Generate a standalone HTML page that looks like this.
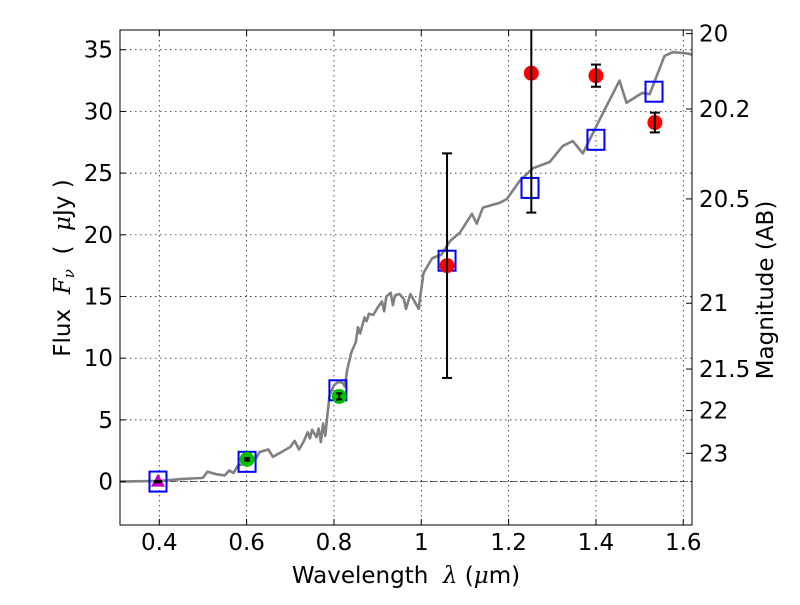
<!DOCTYPE html>
<html><head><meta charset="utf-8"><style>
body{margin:0;background:#fff;}
svg text{font-family:"DejaVu Sans","Liberation Sans",sans-serif;fill:#000;white-space:pre;}
</style></head><body>
<svg id="c" width="800" height="600" xmlns="http://www.w3.org/2000/svg" xml:space="preserve"></svg>
<script>
const specX=[0.310,0.40,0.45,0.50,0.51,0.53,0.55,0.56,0.57,0.58,0.60,0.62,0.63,0.65,0.66,0.68,0.70,0.71,0.72,0.73,0.74,0.745,0.75,0.76,0.765,0.77,0.775,0.78,0.785,0.79,0.80,0.81,0.82,0.825,0.83,0.84,0.85,0.855,0.86,0.87,0.875,0.88,0.89,0.90,0.91,0.915,0.92,0.93,0.935,0.94,0.95,0.96,0.965,0.975,0.994,1.005,1.025,1.046,1.066,1.089,1.116,1.127,1.141,1.18,1.196,1.226,1.256,1.294,1.324,1.347,1.37,1.415,1.454,1.47,1.506,1.523,1.557,1.576,1.609,1.620];
const specY=[0,0.05,0.2,0.3,0.8,0.6,0.5,0.9,0.7,1.3,1.5,1.8,2.4,2.6,2.0,2.4,2.8,3.3,2.6,3.2,4.0,3.5,4.2,3.6,4.3,3.2,4.7,3.7,5.4,7.0,7.8,8.1,8.0,7.7,9.0,10.5,11.3,12.5,12.0,13.3,13.0,13.6,13.5,14.1,14.6,13.8,15.0,15.3,14.3,15.1,15.2,14.8,14.0,15.2,14.0,16.9,18.1,18.4,19.5,20.2,21.7,20.9,22.2,22.6,22.9,24.4,25.4,25.9,27.2,27.6,26.6,29.8,32.5,30.7,31.5,31.4,34.5,34.8,34.7,34.6];
const modelX=[0.397,0.601,0.809,1.059,1.249,1.400,1.533];
const modelY=[0.0,1.6,7.4,17.9,23.8,27.7,31.6];
const obsX=[1.059,1.252,1.400,1.535];
const obsY=[17.5,33.1,32.9,29.1];
const obsErr=[9.1,11.3,0.9,0.8];
const grnX=[0.601,0.812];
const grnY=[1.8,6.9];
const grnErr=[0.1,0.25];
const triX=[0.397];const triY=[0.0];
const xTicks=[0.4,0.6,0.8,1.0,1.2,1.4,1.6];
const xTickLabels=["0.4","0.6","0.8","1","1.2","1.4","1.6"];
const yTicks=[0,5,10,15,20,25,30,35];
const magTicks=[20,20.2,20.5,21,21.5,22,23];
const magLabels=["20","20.2","20.5","21","21.5","22","23"];

const L=120,R=692,T=30,B=525,X0=0.310,X1=1.620,Y0=-3.52,Y1=36.6;
const sx=v=>L+(v-X0)/(X1-X0)*(R-L);
const sy=v=>B-(v-Y0)/(Y1-Y0)*(B-T);
const svg=document.getElementById('c');
const NS="http://www.w3.org/2000/svg";
function mk(tag,attrs,parent){const e=document.createElementNS(NS,tag);for(const k in attrs)e.setAttribute(k,attrs[k]);(parent||svg).appendChild(e);return e;}

const grid=mk('g',{});


xTicks.forEach(v=>mk('line',{x1:sx(v),x2:sx(v),y1:T,y2:B,stroke:'#000','stroke-width':0.7,'stroke-dasharray':'1.5,3.5'},grid));
yTicks.forEach(v=>{mk('line',{x1:L,x2:R,y1:sy(v),y2:sy(v),stroke:'#000','stroke-width':0.7,'stroke-dasharray':'1.5,3.5'},grid);});
const zl=mk('line',{x1:L,x2:R,y1:sy(0),y2:sy(0),stroke:'#000','stroke-width':0.7,'stroke-dasharray':'5,2,1,2'});



const sp=mk('polyline',{points:specX.map((x,i)=>sx(x)+','+sy(specY[i])).join(' '),fill:'none',stroke:'#808080','stroke-width':2.6,'stroke-linejoin':'round'});



modelX.forEach((x,i)=>{const r=mk('rect',{x:sx(x)-8.5,y:sy(modelY[i])-10,width:17,height:20,fill:'none',stroke:'#0000ff','stroke-width':2});

});

function errbar(x,y,e,cap){
  const yt=Math.max(sy(y+e),T);
  mk('line',{x1:sx(x),x2:sx(x),y1:yt,y2:sy(y-e),stroke:'#000','stroke-width':2});
  if(sy(y+e)>=T) mk('line',{x1:sx(x)-cap,x2:sx(x)+cap,y1:sy(y+e),y2:sy(y+e),stroke:'#000','stroke-width':2});
  mk('line',{x1:sx(x)-cap,x2:sx(x)+cap,y1:sy(y-e),y2:sy(y-e),stroke:'#000','stroke-width':2});
}
triX.forEach((x,i)=>{const p=mk('polygon',{points:`${sx(x)},${sy(triY[i])-8} ${sx(x)-7},${sy(triY[i])+5} ${sx(x)+7},${sy(triY[i])+5}`,fill:'#bf00bf'});


mk('rect',{x:sx(x)-4,y:sy(triY[i])-1.5,width:8,height:3,fill:'#000'});});
grnX.forEach((x,i)=>{const c=mk('circle',{cx:sx(x),cy:sy(grnY[i]),r:7.5,fill:'#00c000'});


errbar(x,grnY[i],grnErr[i],3);});
obsX.forEach((x,i)=>{const c=mk('circle',{cx:sx(x),cy:sy(obsY[i]),r:7.5,fill:'#ff0000'});


errbar(x,obsY[i],obsErr[i],5);});

const ax=mk('rect',{x:L,y:T,width:R-L,height:B-T,fill:'none',stroke:'#000','stroke-width':1});


xTicks.forEach((v,i)=>{mk('line',{x1:sx(v),x2:sx(v),y1:B,y2:B-6,stroke:'#000'});mk('line',{x1:sx(v),x2:sx(v),y1:T,y2:T+6,stroke:'#000'});
const t=mk('text',{x:sx(v),y:B+25,'font-size':23,'text-anchor':'middle'});t.textContent=xTickLabels[i];

});
yTicks.forEach(v=>{mk('line',{x1:L,x2:L+6,y1:sy(v),y2:sy(v),stroke:'#000'});
const t=mk('text',{x:L-7,y:sy(v)+8,'font-size':23,'text-anchor':'end'});t.textContent=String(v);

});
const mag2flux=m=>Math.pow(10,(23.9-m)/2.5);
magTicks.forEach((m,i)=>{const y=sy(mag2flux(m));mk('line',{x1:R,x2:R-6,y1:y,y2:y,stroke:'#000'});
const t=mk('text',{x:R+7,y:y+8,'font-size':23});t.textContent=magLabels[i];

});

const xl=mk('text',{x:406,y:583,'font-size':23,'text-anchor':'middle'});
xl.innerHTML='Wavelength  <tspan font-style="italic" font-family="DejaVu Serif,serif">λ</tspan> (<tspan font-style="italic" font-family="DejaVu Serif,serif">μ</tspan>m)';


const yl=mk('text',{x:0,y:0,'font-size':23,'text-anchor':'middle',transform:'translate(70,268) rotate(-90)'});
yl.innerHTML='Flux  <tspan font-style="italic" font-family="DejaVu Serif,serif">F</tspan><tspan font-style="italic" font-size="15" dy="4" font-family="DejaVu Serif,serif">ν</tspan><tspan dy="-4">  (  </tspan><tspan font-style="italic" font-family="DejaVu Serif,serif">μ</tspan>Jy )';


const ml=mk('text',{x:0,y:0,'font-size':23,'text-anchor':'middle',transform:'translate(773,290) rotate(-90)'});
ml.textContent='Magnitude (AB)';


</script>
</body></html>
